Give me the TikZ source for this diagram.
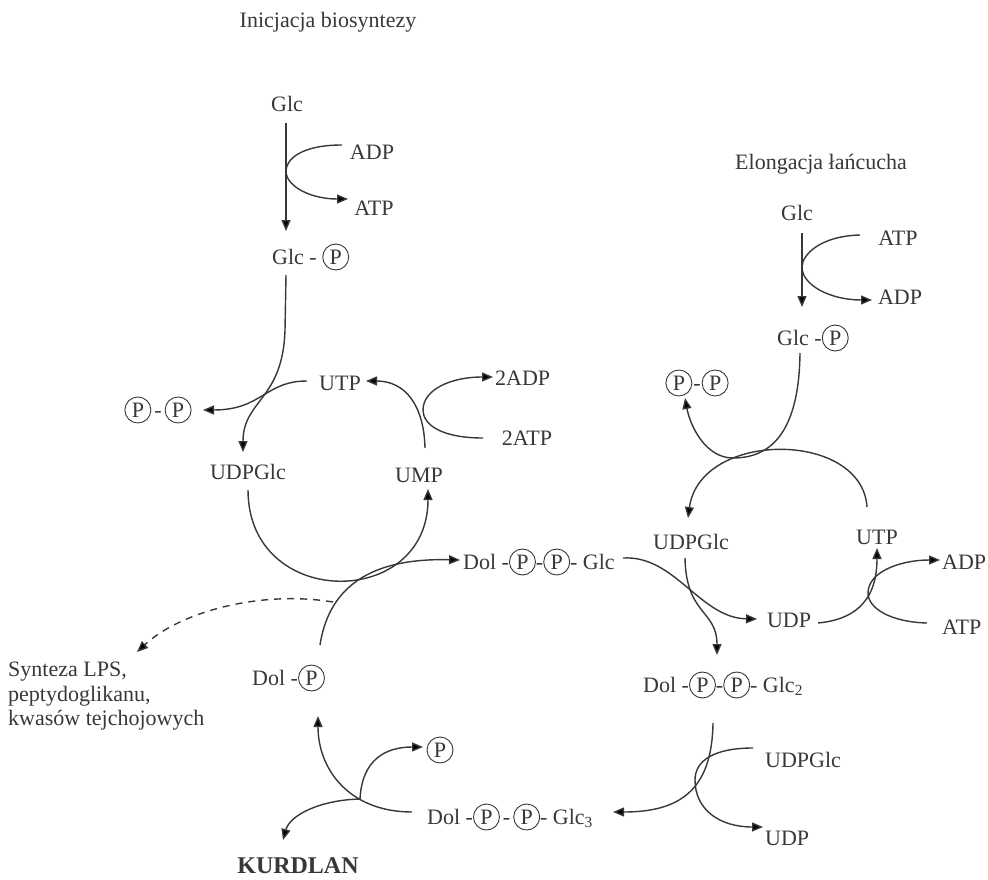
\documentclass[tikz,border=0pt]{standalone}
\usepackage{fontspec}
\setmainfont{Liberation Serif}
\usetikzlibrary{arrows.meta}
\definecolor{ink}{HTML}{383838}
\newcommand{\Pc}{\tikz[baseline=(pcirc.base)]\node[draw=ink,circle,line width=0.9pt,inner sep=0pt,minimum size=26pt,text=ink](pcirc){P};}
\begin{document}
\begin{tikzpicture}[x=1pt,y=-1pt,
  lbl/.style={font=\fontsize{22}{26}\selectfont,text=ink,inner sep=0pt},
  conn/.style={draw=ink,line width=1.4pt},
  arr/.style={conn,-{Triangle[length=11pt,width=9pt]}},
  dasharr/.style={arr,dash pattern=on 7pt off 6pt}]
\useasboundingbox[fill=white] (0,0) rectangle (988,880);

% ---- texts ----
\node[lbl] (tinit) at (328,22) {Inicjacja biosyntezy};
\node[lbl] (telong) at (821,164) {Elongacja łańcucha};
\node[lbl] (glcA) at (287,104) {Glc};
\node[lbl] (adpA) at (372,152) {ADP};
\node[lbl] (atpA) at (374,208) {ATP};
\node[lbl,anchor=west] (glcpA) at (272,257) {Glc - \Pc};
\node[lbl] (ppA) at (158,410) {\Pc\hspace{3pt}-\hspace{3pt}\Pc};
\node[lbl] (utpA) at (340,383) {UTP};
\node[lbl,anchor=west] (adp2) at (495,378) {2ADP};
\node[lbl] (atp2) at (527,438) {2ATP};
\node[lbl] (udpglcA) at (248,472) {UDPGlc};
\node[lbl] (umpA) at (419,475) {UMP};
\node[lbl,anchor=west] (dolppglc) at (463,562) {Dol -\Pc-\Pc- Glc};
\node[lbl,anchor=north west,align=left,font=\fontsize{22}{24.5}\selectfont] (synt) at (8,662) {Synteza LPS,\\peptydoglikanu,\\kwasów tejchojowych};
\node[lbl,anchor=west] (dolp) at (252,678) {Dol -\Pc};
\node[lbl] (pB) at (440,750) {\Pc};
\node[lbl,anchor=west] (dolglc3) at (427,817) {Dol -\Pc\hspace{3pt}-\hspace{3pt}\Pc- Glc\textsubscript{3}};
\node[lbl,font=\bfseries\fontsize{24}{28}\selectfont] (kurd) at (298,866) {KURDLAN};

\node[lbl] (glcB) at (797,213) {Glc};
\node[lbl] (atpB) at (898,238) {ATP};
\node[lbl] (adpB) at (900,297) {ADP};
\node[lbl,anchor=west] (glcpB) at (777,338) {Glc -\Pc};
\node[lbl] (ppB) at (697,383) {\Pc\hspace{1pt}-\hspace{1pt}\Pc};
\node[lbl] (udpglcB) at (691,542) {UDPGlc};
\node[lbl] (utpB) at (877,537) {UTP};
\node[lbl,anchor=west] (adpC) at (942,562) {ADP};
\node[lbl,anchor=west] (atpC) at (942,627) {ATP};
\node[lbl] (udpB) at (789,620) {UDP};
\node[lbl,anchor=west] (dolglc2) at (643,685) {Dol -\Pc-\Pc- Glc\textsubscript{2}};
\node[lbl,anchor=west] (udpglcC) at (765,760) {UDPGlc};
\node[lbl,anchor=west] (udpC) at (765,838) {UDP};

% ---- connector end points ----
\coordinate (glcAout) at (286,123);
\coordinate (glcpAin) at (286,231);
\coordinate (adpAout) at (342,145);
\coordinate (atpAin) at (348,199);
\coordinate (glcpAout) at (286,275);
\coordinate (udpglcAin) at (243,452);
\coordinate (utpAout) at (307,381);
\coordinate (ppAin) at (203,410);
\coordinate (umpAout) at (425,448);
\coordinate (utpAin) at (366,381);
\coordinate (atp2out) at (483,438);
\coordinate (adp2in) at (493,377);
\coordinate (udpglcAout) at (248,490);
\coordinate (umpAin) at (428,489);
\coordinate (dolpout) at (320,645);
\coordinate (dolppglcin) at (460,560);
\coordinate (dashstart) at (333,602);
\coordinate (syntin) at (137,652);
\coordinate (dolppglcout) at (623,558);
\coordinate (udpBin) at (757,619);
\coordinate (udpglcBout) at (685,558);
\coordinate (dolglc2in) at (717,655);
\coordinate (glcpBout) at (800,353);
\coordinate (ppBin) at (685,398);
\coordinate (utpBout) at (867,507);
\coordinate (udpglcBin) at (688,518);
\coordinate (glcBout) at (802,233);
\coordinate (glcpBin) at (802,307);
\coordinate (atpBout) at (860,235);
\coordinate (adpBin) at (872,300);
\coordinate (udpBout) at (818,623);
\coordinate (utpBin) at (877,548);
\coordinate (atpCout) at (927,623);
\coordinate (adpCin) at (940,560);
\coordinate (dolglc2out) at (713,723);
\coordinate (dolglc3in) at (613,812);
\coordinate (udpglcCout) at (753,748);
\coordinate (udpCin) at (763,827);
\coordinate (dolglc3out) at (412,812);
\coordinate (dolpin) at (318,716);
\coordinate (split) at (360,799);
\coordinate (pBin) at (423,747);
\coordinate (kurdin) at (283,840);

% ---- left: initiation ----
\draw[arr] (glcAout) -- (glcpAin);
\draw[arr] (adpAout) .. controls (300,145) and (286,160) .. (286,171)
  .. controls (286,186) and (310,199) .. (atpAin);
\draw[arr] (glcpAout) -- (285,330) .. controls (283,400) and (243,400) .. (udpglcAin);
\draw[arr] (utpAout) .. controls (265,381) and (262,410) .. (ppAin);
\draw[arr] (umpAout) .. controls (424,405) and (405,381) .. (utpAin);
\draw[arr] (atp2out) .. controls (442,438) and (423,425) .. (423,410)
  .. controls (423,390) and (450,377) .. (adp2in);
\draw[arr] (udpglcAout) .. controls (248,610) and (428,610) .. (umpAin);
\draw[arr] (dolpout) .. controls (330,580) and (380,558) .. (dolppglcin);
\draw[dasharr] (dashstart) .. controls (260,590) and (180,612) .. (syntin);

% ---- right: elongation ----
\draw[arr] (glcBout) -- (glcpBin);
\draw[arr] (atpBout) .. controls (820,236) and (802,255) .. (802,267)
  .. controls (802,285) and (830,300) .. (adpBin);
\draw[arr] (glcpBout) .. controls (799,440) and (765,458) .. (733,458)
  .. controls (705,458) and (690,425) .. (ppBin);
\draw[arr] (utpBout) .. controls (862,430) and (700,430) .. (udpglcBin);
\draw[arr] (dolppglcout) .. controls (675,555) and (700,618) .. (udpBin);
\draw[arr] (udpglcBout) .. controls (686,615) and (717,610) .. (dolglc2in);
\draw[arr] (udpBout) .. controls (850,620) and (877,605) .. (utpBin);
\draw[arr] (atpCout) .. controls (890,622) and (868,608) .. (868,593)
  .. controls (868,572) and (900,560) .. (adpCin);
\draw[arr] (dolglc2out) .. controls (712,790) and (680,812) .. (dolglc3in);
\draw[arr] (udpglcCout) .. controls (715,748) and (695,760) .. (695,780)
  .. controls (695,810) and (720,827) .. (udpCin);

% ---- bottom ----
\draw[arr] (dolglc3out) .. controls (350,812) and (318,770) .. (dolpin);
\draw[arr] (split) .. controls (362,760) and (385,747) .. (pBin);
\draw[arr] (split) .. controls (320,800) and (290,815) .. (kurdin);
\end{tikzpicture}
\end{document}
